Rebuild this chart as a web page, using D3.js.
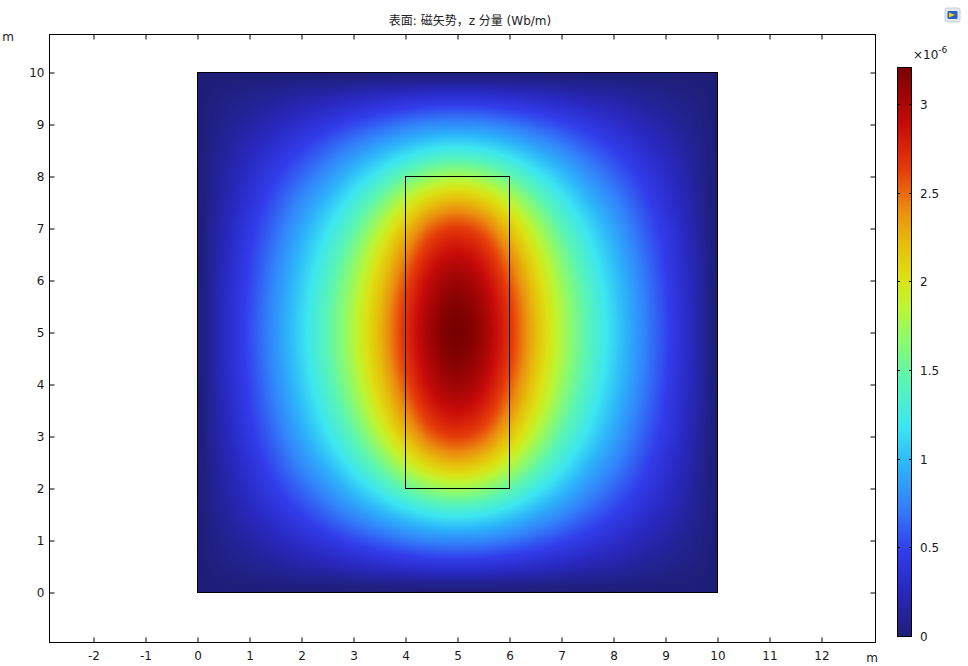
<!DOCTYPE html>
<html>
<head>
<meta charset="utf-8">
<script src="https://cdn.jsdelivr.net/npm/d3@7"></script>
<style>
  body { margin: 0; background: #fff; }
  svg text { font-family: "DejaVu Sans", "Noto Sans CJK SC", sans-serif; fill: #1a1a1a; }
</style>
</head>
<body>
<script>
// surface: magnetic vector potential, z component (x 10^-6 Wb/m)
// sample grid, 0.5 m spacing
var gridX = [0,0.5,1,1.5,2,2.5,3,3.5,4,4.5,5,5.5,6,6.5,7,7.5,8,8.5,9,9.5,10];
var gridY = [0,0.5,1,1.5,2,2.5,3,3.5,4,4.5,5,5.5,6,6.5,7,7.5,8,8.5,9,9.5,10];
// fieldRows[k][i] = value at (gridX[i], gridY[k])
var fieldRows = [
  [0,0,0,0,0,0,0,0,0,0,0,0,0,0,0,0,0,0,0,0,0],
  [0,0.04,0.08,0.12,0.17,0.21,0.26,0.30,0.34,0.37,0.38,0.37,0.34,0.30,0.26,0.21,0.17,0.12,0.08,0.04,0],
  [0,0.08,0.16,0.24,0.33,0.42,0.52,0.61,0.70,0.76,0.78,0.76,0.70,0.61,0.52,0.42,0.33,0.24,0.16,0.08,0],
  [0,0.12,0.24,0.36,0.49,0.63,0.78,0.93,1.08,1.20,1.24,1.20,1.08,0.93,0.78,0.63,0.49,0.36,0.24,0.12,0],
  [0,0.15,0.31,0.47,0.64,0.82,1.03,1.25,1.49,1.68,1.76,1.68,1.49,1.25,1.03,0.82,0.64,0.47,0.31,0.15,0],
  [0,0.18,0.37,0.57,0.78,1.00,1.26,1.55,1.88,2.15,2.26,2.15,1.88,1.55,1.26,1.00,0.78,0.57,0.37,0.18,0],
  [0,0.21,0.43,0.65,0.90,1.16,1.45,1.81,2.19,2.52,2.64,2.52,2.19,1.81,1.45,1.16,0.90,0.65,0.43,0.21,0],
  [0,0.23,0.47,0.72,0.99,1.28,1.61,2.00,2.41,2.76,2.89,2.76,2.41,2.00,1.61,1.28,0.99,0.72,0.47,0.23,0],
  [0,0.25,0.50,0.77,1.06,1.37,1.72,2.13,2.56,2.92,3.06,2.92,2.56,2.13,1.72,1.37,1.06,0.77,0.50,0.25,0],
  [0,0.26,0.52,0.80,1.10,1.43,1.79,2.21,2.66,3.02,3.17,3.02,2.66,2.21,1.79,1.43,1.10,0.80,0.52,0.26,0],
  [0,0.26,0.53,0.81,1.12,1.44,1.81,2.24,2.69,3.06,3.21,3.06,2.69,2.24,1.81,1.44,1.12,0.81,0.53,0.26,0],
  [0,0.26,0.52,0.80,1.10,1.43,1.79,2.21,2.66,3.02,3.17,3.02,2.66,2.21,1.79,1.43,1.10,0.80,0.52,0.26,0],
  [0,0.25,0.50,0.77,1.06,1.37,1.72,2.13,2.56,2.92,3.06,2.92,2.56,2.13,1.72,1.37,1.06,0.77,0.50,0.25,0],
  [0,0.23,0.47,0.72,0.99,1.28,1.61,2.00,2.41,2.76,2.89,2.76,2.41,2.00,1.61,1.28,0.99,0.72,0.47,0.23,0],
  [0,0.21,0.43,0.65,0.90,1.16,1.45,1.81,2.19,2.52,2.64,2.52,2.19,1.81,1.45,1.16,0.90,0.65,0.43,0.21,0],
  [0,0.18,0.37,0.57,0.78,1.00,1.26,1.55,1.88,2.15,2.26,2.15,1.88,1.55,1.26,1.00,0.78,0.57,0.37,0.18,0],
  [0,0.15,0.31,0.47,0.64,0.82,1.03,1.25,1.49,1.68,1.76,1.68,1.49,1.25,1.03,0.82,0.64,0.47,0.31,0.15,0],
  [0,0.12,0.24,0.36,0.49,0.63,0.78,0.93,1.08,1.20,1.24,1.20,1.08,0.93,0.78,0.63,0.49,0.36,0.24,0.12,0],
  [0,0.08,0.16,0.24,0.33,0.42,0.52,0.61,0.70,0.76,0.78,0.76,0.70,0.61,0.52,0.42,0.33,0.24,0.16,0.08,0],
  [0,0.04,0.08,0.12,0.17,0.21,0.26,0.30,0.34,0.37,0.38,0.37,0.34,0.30,0.26,0.21,0.17,0.12,0.08,0.04,0],
  [0,0,0,0,0,0,0,0,0,0,0,0,0,0,0,0,0,0,0,0,0]
];
var domainBox = [0, 0, 10, 10];   // x0, y0, x1, y1 (m)
var coilBox = [4, 2, 6, 8];
var xTicks = [-2,-1,0,1,2,3,4,5,6,7,8,9,10,11,12];
var yTicks = [0,1,2,3,4,5,6,7,8,9,10];
var barTicks = [0,0.5,1,1.5,2,2.5,3];
var barMax = 3.21;
var titleText = "表面: 磁矢势，z 分量 (Wb/m)";

// rainbow colour table (fraction of range -> colour)
var cmapStops  = [0, 0.08, 0.15, 0.23, 0.30, 0.37, 0.45, 0.52, 0.58, 0.63, 0.69, 0.75, 0.82, 0.90, 1];
var cmapColors = ["#1e1e78","#2828be","#323ceb","#3282fa","#2db4fa","#3ce6f0","#5af5b4","#8cfa6e","#bef532",
                  "#dce114","#e6be0a","#eb8c0f","#e63c0a","#c80a0a","#780000"];

var width = 968, height = 666;
var frameL = 49.5, frameR = 875.5, frameT = 34.5, frameB = 642.5;

var x = d3.scaleLinear().domain([0, 10]).range([197, 717]);
var y = d3.scaleLinear().domain([0, 10]).range([592, 72]);
var color = d3.scaleLinear()
    .domain(cmapStops.map(function(t){ return t * barMax; }))
    .range(cmapColors)
    .clamp(true);

var svg = d3.select("body").append("svg")
    .attr("width", width)
    .attr("height", height);

//title
svg.append("text")
    .attr("x", 470).attr("y", 25)
    .attr("text-anchor", "middle")
    .style("font-size", "12px")
    .style("fill", "#222")
    .text(titleText);

//field image, drawn on a canvas then put in the svg
var pxW = Math.round(x(domainBox[2]) - x(domainBox[0]));
var pxH = Math.round(y(domainBox[1]) - y(domainBox[3]));
var canvas = document.createElement("canvas");
canvas.width = pxW; canvas.height = pxH;
var ctx = canvas.getContext("2d");
var img = ctx.createImageData(pxW, pxH);

var nx = gridX.length, ny = gridY.length;
var dx = gridX[1] - gridX[0], dy = gridY[1] - gridY[0];
function at(k, i) {
  k = Math.max(0, Math.min(ny - 1, k));
  i = Math.max(0, Math.min(nx - 1, i));
  return fieldRows[k][i];
}
function cr(p0, p1, p2, p3, t) {
  return p1 + 0.5 * t * (p2 - p0 + t * (2*p0 - 5*p1 + 4*p2 - p3 + t * (3*(p1 - p2) + p3 - p0)));
}
function sample(xm, ym) {
  var gx = (xm - gridX[0]) / dx, gy = (ym - gridY[0]) / dy;
  var i = Math.floor(gx), k = Math.floor(gy);
  var fx = gx - i, fy = gy - k;
  var rows = [];
  for (var r = -1; r <= 2; r++) {
    rows.push(cr(at(k+r, i-1), at(k+r, i), at(k+r, i+1), at(k+r, i+2), fx));
  }
  return cr(rows[0], rows[1], rows[2], rows[3], fy);
}
var lut = d3.range(1024).map(function(j){ return d3.rgb(color(j / 1023 * barMax)); });
for (var py = 0; py < pxH; py++) {
  for (var px = 0; px < pxW; px++) {
    var xm = x.invert(x(domainBox[0]) + px + 0.5);
    var ym = y.invert(y(domainBox[3]) + py + 0.5);
    var v = sample(xm, ym);
    var c = lut[Math.max(0, Math.min(1023, Math.round(v / barMax * 1023)))];
    var o = (py * pxW + px) * 4;
    img.data[o] = c.r; img.data[o+1] = c.g; img.data[o+2] = c.b; img.data[o+3] = 255;
  }
}
ctx.putImageData(img, 0, 0);

svg.append("image")
    .attr("x", x(domainBox[0]))
    .attr("y", y(domainBox[3]))
    .attr("width", pxW)
    .attr("height", pxH)
    .attr("preserveAspectRatio", "none")
    .attr("href", canvas.toDataURL());

//domain and coil outlines
[domainBox, coilBox].forEach(function(b){
  svg.append("rect")
      .attr("x", x(b[0]) + 0.5)
      .attr("y", y(b[3]) + 0.5)
      .attr("width", x(b[2]) - x(b[0]))
      .attr("height", y(b[1]) - y(b[3]))
      .attr("fill", "none")
      .attr("stroke", "#000")
      .attr("stroke-width", 1);
});

//axes, ticks point inward
var fmt = function(d){ return String(d); };
function styleAxis(g) {
  g.select(".domain").remove();
  g.selectAll("line").attr("stroke", "#000");
  g.selectAll("text").style("font-size", "12px").attr("fill", "#1a1a1a");
}
svg.append("g")
    .attr("transform", "translate(0.5," + frameB + ")")
    .call(d3.axisBottom(x).tickValues(xTicks).tickSize(-5).tickPadding(9).tickFormat(fmt))
    .call(styleAxis);
svg.append("g")
    .attr("transform", "translate(0.5," + frameT + ")")
    .call(d3.axisTop(x).tickValues(xTicks).tickSize(-5).tickFormat(""))
    .call(styleAxis);
svg.append("g")
    .attr("transform", "translate(" + frameL + ",0.5)")
    .call(d3.axisLeft(y).tickValues(yTicks).tickSize(-5).tickPadding(5).tickFormat(fmt))
    .call(styleAxis);
svg.append("g")
    .attr("transform", "translate(" + frameR + ",0.5)")
    .call(d3.axisRight(y).tickValues(yTicks).tickSize(-5).tickFormat(""))
    .call(styleAxis);

svg.append("rect")
    .attr("x", frameL).attr("y", frameT)
    .attr("width", frameR - frameL).attr("height", frameB - frameT)
    .attr("fill", "none").attr("stroke", "#000");

//unit labels
svg.append("text").attr("x", 8).attr("y", 41).attr("text-anchor", "middle")
    .style("font-size", "12px").text("m");
svg.append("text").attr("x", 872).attr("y", 662).attr("text-anchor", "middle")
    .style("font-size", "12px").text("m");

//colour bar
var barX = 897, barW = 14;
var cb = d3.scaleLinear().domain([0, barMax]).range([636, 67]);
var grad = svg.append("defs").append("linearGradient")
    .attr("id", "cbar")
    .attr("x1", 0).attr("y1", 1).attr("x2", 0).attr("y2", 0);
grad.selectAll("stop")
    .data(cmapStops)
    .enter().append("stop")
    .attr("offset", function(d){ return d; })
    .attr("stop-color", function(d, i){ return cmapColors[i]; });

svg.append("rect")
    .attr("x", barX + 0.5).attr("y", cb(barMax) + 0.5)
    .attr("width", barW).attr("height", cb(0) - cb(barMax))
    .attr("fill", "url(#cbar)")
    .attr("stroke", "#000");

var bt = svg.append("g").selectAll("g")
    .data(barTicks)
    .enter().append("g")
    .attr("transform", function(d){ return "translate(0," + (Math.round(cb(d)) + 0.5) + ")"; });
bt.append("line").attr("x1", barX).attr("x2", barX + 3).attr("stroke", "#000");
bt.append("line").attr("x1", barX + barW - 2).attr("x2", barX + barW + 1).attr("stroke", "#000");
bt.append("text")
    .attr("x", 920)
    .attr("dy", "0.35em")
    .style("font-size", "12px")
    .text(fmt);

var mult = svg.append("text").attr("x", 913).attr("y", 59).style("font-size", "12px");
mult.append("tspan").text("×10");
mult.append("tspan").attr("dy", -6).style("font-size", "9px").text("-6");

//small corner icon
var icon = svg.append("g").attr("transform", "translate(945,8)");
icon.append("rect").attr("x", 0).attr("y", 0).attr("width", 15).attr("height", 14).attr("rx", 2)
    .attr("fill", "#e4e9ef").attr("stroke", "#c9cfd6");
icon.append("rect").attr("x", 2.5).attr("y", 3).attr("width", 10).attr("height", 8).attr("rx", 1)
    .attr("fill", "#2a5fc4");
icon.append("path").attr("d", "M4,4.5 L10,7 L4,9.5 Z").attr("fill", "#f3d21a");
</script>
</body>
</html>
